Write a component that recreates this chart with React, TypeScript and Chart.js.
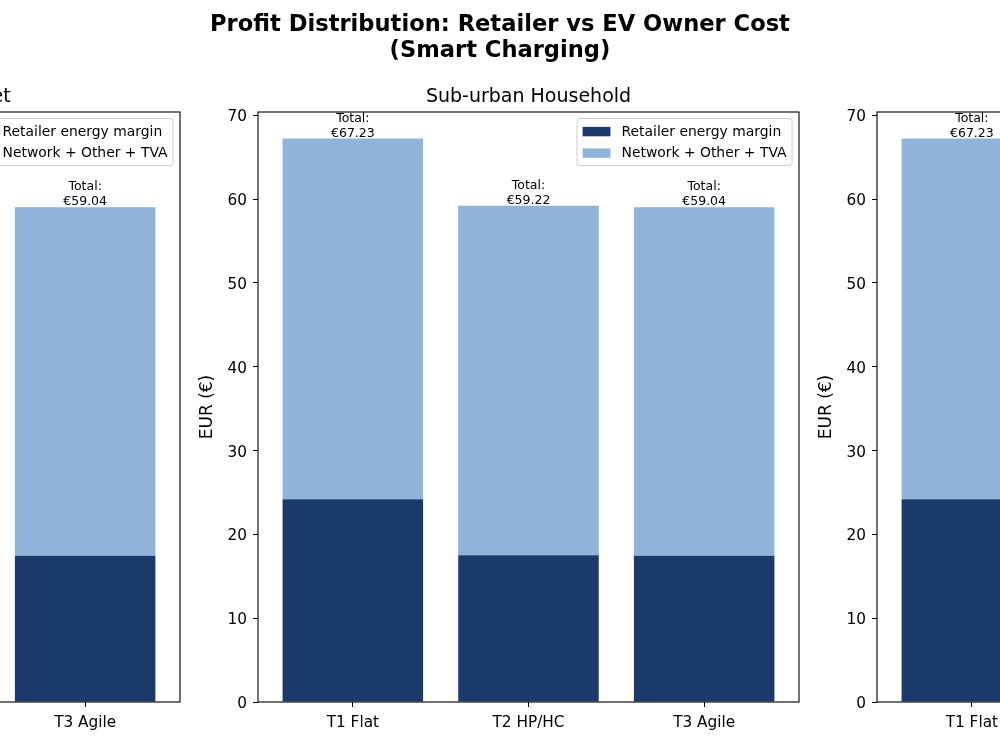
import React, { useEffect, useRef } from "react";
import { Chart, registerables } from "chart.js";

Chart.register(...registerables);

// ---- data ----
const tariffs = ["T1 Flat", "T2 HP/HC", "T3 Agile"];
const retailerMargin = [24.2, 17.5, 17.45];
const totalCost = [67.23, 59.22, 59.04];
const yTickValues = [0, 10, 20, 30, 40, 50, 60, 70];
const seriesNames = ["Retailer energy margin", "Network + Other + TVA"];
const panelTitles = ["Small Company Fleet", "Sub-urban Household", "Rural Household"];
const figureTitle = ["Profit Distribution: Retailer vs EV Owner Cost", "(Smart Charging)"];

// ---- styling ----
const FONT = '"DejaVu Sans", "Liberation Sans", sans-serif';
const DARK = "#1b3a6b";
const LIGHT = "#8fb3d9";
const AXIS_W = 80; // room for y ticks + y title
const PLOT_W = 541;
const RIGHT_PAD = 10;
const CANVAS_W = AXIS_W + PLOT_W + RIGHT_PAD;
const CANVAS_H = 750;
const PLOT_TOP = 112;
const X_AXIS_H = 48;

const panelDecor = {
  id: "panelDecor",
  afterDatasetsDraw(chart: any, _args: any, opts: any) {
    const { ctx, chartArea: a } = chart;
    ctx.save();

    // value labels above each stacked bar
    const topMeta = chart.getDatasetMeta(1);
    ctx.fillStyle = "#000";
    ctx.textAlign = "center";
    ctx.textBaseline = "alphabetic";
    ctx.font = `12.5px ${FONT}`;
    topMeta.data.forEach((el: any, i: number) => {
      ctx.fillText("Total:", el.x, el.y - 17);
      ctx.fillText("€" + totalCost[i].toFixed(2), el.x, el.y - 2);
    });

    // frame around the plot area
    ctx.strokeStyle = "#000";
    ctx.lineWidth = 1.1;
    ctx.strokeRect(a.left, a.top, a.right - a.left, a.bottom - a.top);

    // panel title
    ctx.font = `19px ${FONT}`;
    ctx.fillText(opts.title, (a.left + a.right) / 2, a.top - 10);

    // legend, upper right inside the plot
    ctx.font = `13.9px ${FONT}`;
    const textW = Math.max(...seriesNames.map((s) => ctx.measureText(s).width));
    const boxW = 5.6 + 27.8 + 11.1 + textW + 5.6;
    const boxH = 47;
    const right = a.right - 6.9;
    const top = a.top + 6.5;
    const left = right - boxW;
    ctx.beginPath();
    ctx.roundRect(left, top, boxW, boxH, 3);
    ctx.fillStyle = "rgba(255,255,255,0.8)";
    ctx.fill();
    ctx.strokeStyle = "#cccccc";
    ctx.lineWidth = 1;
    ctx.stroke();
    const colors = [DARK, LIGHT];
    ctx.textAlign = "left";
    ctx.textBaseline = "middle";
    seriesNames.forEach((name, i) => {
      const cy = top + 13 + i * 21.5;
      ctx.fillStyle = colors[i];
      ctx.fillRect(left + 5.6, cy - 4.6, 27.8, 9.4);
      ctx.fillStyle = "#000";
      ctx.fillText(name, left + 44.5, cy + 0.5);
    });

    ctx.restore();
  },
};

function Panel({ left, title }: { left: number; title: string }) {
  const ref = useRef<HTMLCanvasElement | null>(null);

  useEffect(() => {
    if (!ref.current) return;
    const chart = new Chart(ref.current, {
      type: "bar",
      data: {
        datasets: [
          {
            label: seriesNames[0],
            data: tariffs.map((_, i) => ({ x: i, y: retailerMargin[i] })),
            backgroundColor: DARK,
            stack: "cost",
            barPercentage: 0.8,
            categoryPercentage: 1,
          },
          {
            label: seriesNames[1],
            data: tariffs.map((_, i) => ({ x: i, y: totalCost[i] - retailerMargin[i] })),
            backgroundColor: LIGHT,
            stack: "cost",
            barPercentage: 0.8,
            categoryPercentage: 1,
          },
        ],
      },
      options: {
        responsive: false,
        animation: false,
        devicePixelRatio: 1,
        layout: { padding: { top: PLOT_TOP, right: RIGHT_PAD, bottom: 0, left: 0 } },
        plugins: {
          legend: { display: false },
          tooltip: { enabled: false },
          title: { display: false },
          panelDecor: { title },
        } as any,
        scales: {
          x: {
            type: "linear",
            min: -0.54,
            max: 2.54,
            offset: false,
            afterBuildTicks: (s: any) => {
              s.ticks = tariffs.map((_, i) => ({ value: i }));
            },
            afterFit: (s: any) => {
              s.height = X_AXIS_H;
            },
            grid: {
              display: true,
              offset: false,
              drawOnChartArea: false,
              drawTicks: true,
              tickLength: 5,
              color: "#000",
              lineWidth: 1,
            },
            border: { display: false },
            ticks: {
              autoSkip: false,
              maxRotation: 0,
              padding: 7,
              color: "#000",
              font: { family: FONT, size: 15.3 },
              callback: (v: any) => tariffs[Math.round(Number(v))] ?? "",
            },
          },
          y: {
            type: "linear",
            min: 0,
            max: 70.4,
            stacked: true,
            afterBuildTicks: (s: any) => {
              s.ticks = yTickValues.map((v) => ({ value: v }));
            },
            afterFit: (s: any) => {
              s.width = AXIS_W;
            },
            grid: {
              display: true,
              drawOnChartArea: false,
              drawTicks: true,
              tickLength: 5,
              color: "#000",
              lineWidth: 1,
            },
            border: { display: false },
            ticks: {
              padding: 6,
              labelOffset: 2,
              color: "#000",
              font: { family: FONT, size: 15.3 },
            },
            title: {
              display: true,
              text: "EUR (€)",
              color: "#000",
              font: { family: FONT, size: 17 },
              padding: { top: 19.8, bottom: 0 },
            },
          },
        },
      } as any,
      plugins: [panelDecor],
    });
    return () => chart.destroy();
  }, [title]);

  return (
    <canvas
      ref={ref}
      width={CANVAS_W}
      height={CANVAS_H}
      style={{ position: "absolute", left, top: 0, width: CANVAS_W, height: CANVAS_H }}
    />
  );
}

export default function App() {
  const plotLefts = [-361, 258, 877];
  return (
    <div
      style={{
        position: "absolute",
        left: 0,
        top: 0,
        width: 1000,
        height: 750,
        overflow: "hidden",
        background: "#fff",
      }}
    >
      {plotLefts.map((pl, i) => (
        <Panel key={i} left={pl - AXIS_W} title={panelTitles[i]} />
      ))}
      <div
        style={{
          position: "absolute",
          left: 0,
          top: 11,
          width: 1000,
          textAlign: "center",
          fontFamily: FONT,
          fontWeight: "bold",
          fontSize: 22.6,
          lineHeight: "25.5px",
          color: "#000",
        }}
      >
        {figureTitle.map((line, i) => (
          <div key={i}>{line}</div>
        ))}
      </div>
    </div>
  );
}
